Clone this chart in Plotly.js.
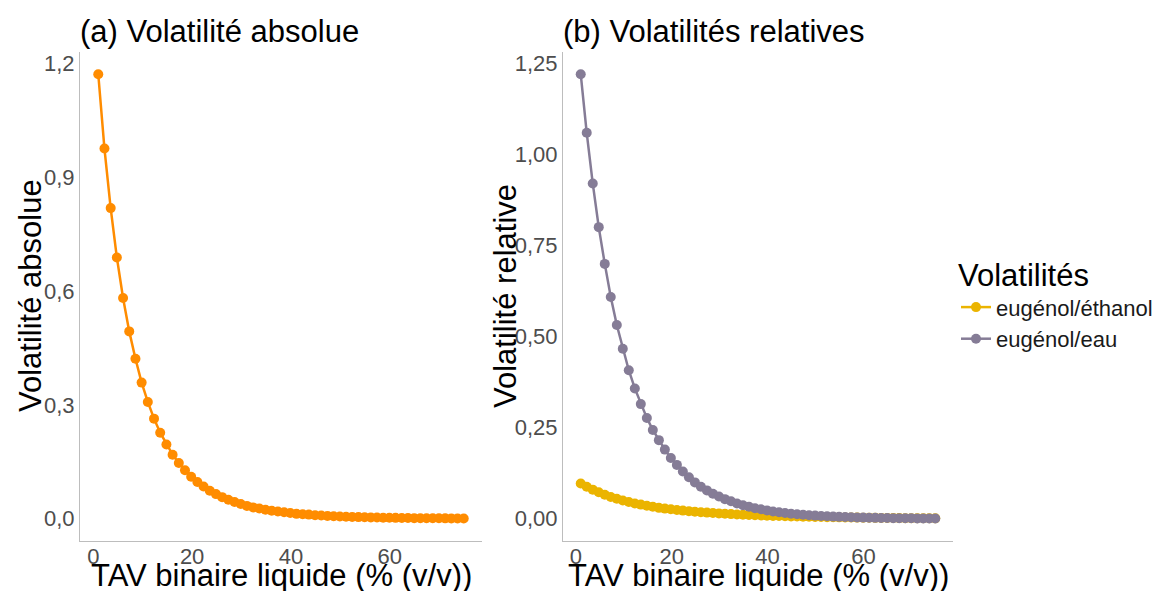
<!DOCTYPE html>
<html>
<head>
<meta charset="utf-8">
<script src="https://cdn.plot.ly/plotly-3.0.1.min.js"></script>
<style>html,body{margin:0;padding:0;background:#fff;}#chart{width:1173px;height:591px;}</style>
</head>
<body>
<div id="chart"></div>
<script>
// TAV binaire liquide (% v/v)
const tav = [1.00, 2.25, 3.51, 4.76, 6.02, 7.27, 8.53, 9.78, 11.03, 12.29,
  13.54, 14.80, 16.05, 17.31, 18.56, 19.81, 21.07, 22.32, 23.58, 24.83,
  26.08, 27.34, 28.59, 29.85, 31.10, 32.36, 33.61, 34.86, 36.12, 37.37,
  38.63, 39.88, 41.14, 42.39, 43.64, 44.90, 46.15, 47.41, 48.66, 49.92,
  51.17, 52.42, 53.68, 54.93, 56.19, 57.44, 58.69, 59.95, 61.20, 62.46,
  63.71, 64.97, 66.22, 67.47, 68.73, 69.98, 71.24, 72.49, 73.75, 75.00];

// (a) Volatilité absolue
const volAbsolue = [1.172, 0.976, 0.819, 0.689, 0.582, 0.494, 0.422, 0.359, 0.308, 0.264,
  0.227, 0.196, 0.169, 0.147, 0.128, 0.111, 0.097, 0.085, 0.074, 0.065,
  0.057, 0.050, 0.044, 0.039, 0.034, 0.030, 0.027, 0.024, 0.021, 0.019,
  0.017, 0.015, 0.013, 0.012, 0.011, 0.0095, 0.0085, 0.0076, 0.0068, 0.0061,
  0.0055, 0.0049, 0.0044, 0.0040, 0.0036, 0.0032, 0.0029, 0.0026, 0.0024, 0.0021,
  0.0019, 0.0017, 0.0016, 0.0014, 0.0013, 0.0012, 0.0011, 0.0010, 0.0009, 0.0008];

// (b) Volatilités relatives
const volEugEthanol = [0.097, 0.088, 0.080, 0.073, 0.066, 0.060, 0.055, 0.050, 0.046, 0.042,
  0.039, 0.036, 0.033, 0.030, 0.028, 0.026, 0.024, 0.0225, 0.021, 0.0195,
  0.018, 0.017, 0.0158, 0.0148, 0.0138, 0.0129, 0.0120, 0.0112, 0.0105, 0.0098,
  0.0092, 0.0086, 0.0080, 0.0075, 0.0070, 0.0066, 0.0062, 0.0058, 0.0054, 0.0051,
  0.0048, 0.0045, 0.0042, 0.0039, 0.0037, 0.0034, 0.0032, 0.0030, 0.0028, 0.0026,
  0.0024, 0.0022, 0.0021, 0.0019, 0.0018, 0.0016, 0.0015, 0.0014, 0.0013, 0.0012];

const volEugEau = [1.221, 1.060, 0.921, 0.801, 0.700, 0.609, 0.532, 0.467, 0.408, 0.358,
  0.315, 0.277, 0.244, 0.216, 0.190, 0.167, 0.148, 0.130, 0.114, 0.100,
  0.088, 0.078, 0.069, 0.061, 0.054, 0.048, 0.042, 0.037, 0.033, 0.029,
  0.026, 0.023, 0.020, 0.018, 0.016, 0.014, 0.0125, 0.011, 0.0098, 0.0087,
  0.0077, 0.0068, 0.0060, 0.0053, 0.0047, 0.0042, 0.0037, 0.0033, 0.0029, 0.0026,
  0.0023, 0.0020, 0.0018, 0.0016, 0.0014, 0.0013, 0.0011, 0.0010, 0.0009, 0.0008];

const seriesNames = ['eugénol/éthanol', 'eugénol/eau'];
const xTicks = [0, 20, 40, 60];
const yTicksA = [0, 0.3, 0.6, 0.9, 1.2];
const yTicksB = [0, 0.25, 0.5, 0.75, 1.0, 1.25];

const FONT = 'Liberation Sans, Arial, sans-serif';
const cOrange = '#FF8C00', cEthanol = '#EBB400', cEau = '#857C96';

const traces = [
  {x: tav, y: volAbsolue, xaxis: 'x', yaxis: 'y', mode: 'lines+markers', showlegend: false,
   line: {color: cOrange, width: 2.5}, marker: {color: cOrange, size: 10}, name: 'Volatilité absolue'},
  {x: tav, y: volEugEthanol, xaxis: 'x2', yaxis: 'y2', mode: 'lines+markers', name: seriesNames[0],
   line: {color: cEthanol, width: 2.5}, marker: {color: cEthanol, size: 10}},
  {x: tav, y: volEugEau, xaxis: 'x2', yaxis: 'y2', mode: 'lines+markers', name: seriesNames[1],
   line: {color: cEau, width: 2.5}, marker: {color: cEau, size: 10}}
];

const W = 1173, H = 591;
const px = v => v / W, py = v => 1 - v / H;

const axisCommon = {
  showgrid: false, zeroline: false, showline: true, linecolor: '#bdbdbd', linewidth: 1,
  ticks: '', tickfont: {family: FONT, size: 22, color: '#4d4d4d'}, fixedrange: true
};

const layout = {
  width: W, height: H,
  margin: {l: 0, r: 0, t: 0, b: 0},
  paper_bgcolor: '#fff', plot_bgcolor: '#fff',
  separators: ', ',
  font: {family: FONT},
  xaxis: Object.assign({}, axisCommon, {domain: [px(80), px(482)], range: [-2.7, 78.7], tickvals: xTicks, anchor: 'y', ticklabelstandoff: -4}),
  yaxis: Object.assign({}, axisCommon, {domain: [py(541), py(52)], range: [-0.0586, 1.2306], tickvals: yTicksA, tickformat: '.1f', anchor: 'x'}),
  xaxis2: Object.assign({}, axisCommon, {domain: [px(563), px(953)], range: [-2.7, 78.7], tickvals: xTicks, anchor: 'y2', ticklabelstandoff: -4}),
  yaxis2: Object.assign({}, axisCommon, {domain: [py(541), py(52)], range: [-0.061, 1.282], tickvals: yTicksB, tickformat: '.2f', anchor: 'x2'}),
  showlegend: true,
  legend: {
    x: px(956), y: py(246), xanchor: 'left', yanchor: 'top',
    title: {text: 'Volatilités', font: {family: FONT, size: 31, color: '#000'}},
    font: {family: FONT, size: 22, color: '#1a1a1a'},
    bgcolor: 'rgba(0,0,0,0)', tracegroupgap: 4
  },
  annotations: [
    {text: '(a) Volatilité absolue', xref: 'paper', yref: 'paper', x: px(78), y: py(32), xanchor: 'left', yanchor: 'middle', showarrow: false, font: {family: FONT, size: 31, color: '#000'}},
    {text: '(b) Volatilités relatives', xref: 'paper', yref: 'paper', x: px(561), y: py(32), xanchor: 'left', yanchor: 'middle', showarrow: false, font: {family: FONT, size: 31, color: '#000'}},
    {text: 'TAV binaire liquide (% (v/v))', xref: 'paper', yref: 'paper', x: px(281), y: py(575), xanchor: 'center', yanchor: 'middle', showarrow: false, font: {family: FONT, size: 31, color: '#000'}},
    {text: 'TAV binaire liquide (% (v/v))', xref: 'paper', yref: 'paper', x: px(758), y: py(575), xanchor: 'center', yanchor: 'middle', showarrow: false, font: {family: FONT, size: 31, color: '#000'}},
    {text: 'Volatilité absolue', xref: 'paper', yref: 'paper', x: px(30), y: py(296), xanchor: 'center', yanchor: 'middle', textangle: -90, showarrow: false, font: {family: FONT, size: 31, color: '#000'}},
    {text: 'Volatilité relative', xref: 'paper', yref: 'paper', x: px(505), y: py(296), xanchor: 'center', yanchor: 'middle', textangle: -90, showarrow: false, font: {family: FONT, size: 31, color: '#000'}}
  ]
};

Plotly.newPlot('chart', traces, layout, {displayModeBar: false, staticPlot: true});
</script>
</body>
</html>
